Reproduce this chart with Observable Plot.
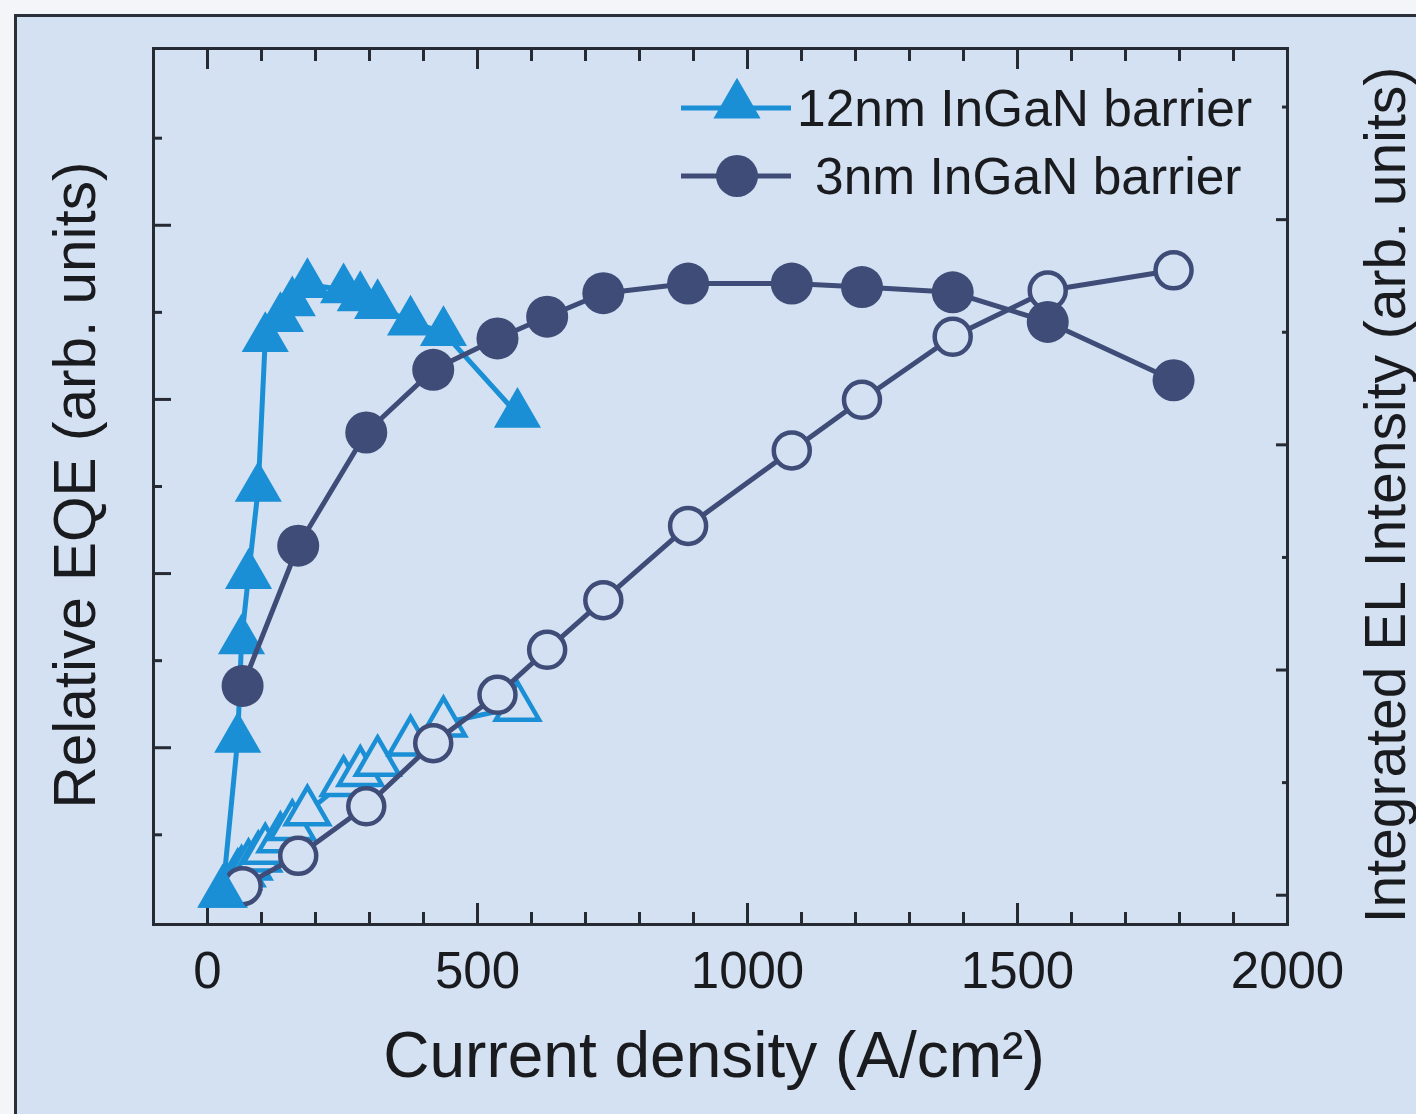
<!DOCTYPE html>
<html><head><meta charset="utf-8">
<script src="https://cdn.jsdelivr.net/npm/d3@7"></script>
<script src="https://cdn.jsdelivr.net/npm/@observablehq/plot@0.6"></script>
<style>
body{margin:0;background:#f3f5f9;}
#wrap{position:relative;width:1416px;height:1114px;overflow:hidden;font-family:"Liberation Sans",Arial,sans-serif;color:#1a1b1f;}
#panel{position:absolute;left:14px;top:14px;width:1420px;height:1120px;background:#d4e1f2;border-left:3px solid #2b2f38;border-top:3px solid #2b2f38;}
#chart{position:absolute;left:0;top:0;}
.t{position:absolute;white-space:nowrap;line-height:1;}
.leg{position:absolute;}
</style></head>
<body><div id="wrap"><div id="panel"></div><div id="chart"></div>
<div class="t" id="xt" style="font-size:64px;left:714px;top:1023px;transform:translateX(-50%);">Current density (A/cm²)</div>
<div class="t" id="yl" style="font-size:58.5px;left:75px;top:485px;transform:translate(-50%,-50%) rotate(-90deg);">Relative EQE (arb. units)</div>
<div class="t" id="yr" style="font-size:57px;left:1385px;top:495px;transform:translate(-50%,-50%) rotate(-90deg);">Integrated EL Intensity (arb. units)</div>
<div id="legend"></div>
</div>
<script>
// ---- data ----
const jThick   = [28, 56, 63, 76, 94, 107, 135, 157, 185, 252, 283, 315, 376, 437, 574];
const eqeThick = [0.32, 2.10, 3.23, 3.98, 4.98, 6.70, 6.93, 7.11, 7.32, 7.26, 7.17, 7.08, 6.89, 6.77, 5.83];
const elThick  = [0.02, 0.17, 0.20, 0.26, 0.33, 0.40, 0.50, 0.61, 0.74, 1.00, 1.09, 1.18, 1.36, 1.53, 1.67];
const jThin    = [65, 168, 294, 418, 537, 629, 733, 890, 1082, 1212, 1380, 1556, 1789];
const eqeThin  = [2.71, 4.32, 5.62, 6.34, 6.70, 6.95, 7.22, 7.33, 7.33, 7.29, 7.23, 6.89, 6.22];
const elThin   = [0.08, 0.35, 0.79, 1.35, 1.78, 2.18, 2.62, 3.28, 3.95, 4.40, 4.96, 5.37, 5.55];
const seriesNames = ["12nm InGaN barrier", "3nm InGaN barrier"];
const xMajor = [0, 500, 1000, 1500, 2000];
const xMinor = [100,200,300,400,600,700,800,900,1100,1200,1300,1400,1600,1700,1800,1900];
const yLeftMajor = [2, 4, 6, 8];
const yLeftMinor = [1, 3, 5, 7, 9];
const yRightMajor = [0, 2, 4, 6];
const yRightMinor = [1, 3, 5, 7];

// right axis (EL) mapped onto left scale units
const yLeftDomain = [-0.03, 10.03];
const yRightDomain = [-0.26, 7.52];
const toLeft = v => yLeftDomain[0] + (v - yRightDomain[0]) * (yLeftDomain[1]-yLeftDomain[0]) / (yRightDomain[1]-yRightDomain[0]);

const thick = jThick.map((j,i)=>({j, eqe: eqeThick[i], el: elThick[i]}));
const thin  = jThin.map((j,i)=>({j, eqe: eqeThin[i], el: elThin[i]}));

const BLUE = "#1a8fd5", NAVY = "#3e4c77", BG = "#d4e1f2", INK = "#262a33";
const noText = () => "";
const LW = 5;

const chart = Plot.plot({
  width: 1416, height: 1114,
  marginLeft: 153, marginRight: 129, marginTop: 48, marginBottom: 190,
  x: {domain: [-100, 2000]},
  y: {domain: yLeftDomain},
  style: {background: "transparent", fontFamily: "Liberation Sans, Arial, sans-serif", color: "#1a1b1f", overflow: "visible"},
  marks: [
    // ticks
    Plot.axisX({anchor: "bottom", ticks: xMajor, tickSize: -21, tickFormat: noText, label: null, stroke: INK, strokeWidth: 3}),
    Plot.axisX({anchor: "bottom", ticks: xMinor, tickSize: -12, tickFormat: noText, label: null, stroke: INK, strokeWidth: 3}),
    Plot.axisX({anchor: "top", ticks: xMajor, tickSize: -20, tickFormat: noText, label: null, stroke: INK, strokeWidth: 3}),
    Plot.axisX({anchor: "top", ticks: xMinor, tickSize: -12, tickFormat: noText, label: null, stroke: INK, strokeWidth: 3}),
    Plot.axisX({anchor: "bottom", ticks: xMajor, tickSize: 0, tickPadding: 27, fontSize: 51, label: null, tickFormat: d => String(d)}),
    Plot.axisY({anchor: "left", ticks: yLeftMajor, tickSize: -18, tickFormat: noText, label: null, stroke: INK, strokeWidth: 3}),
    Plot.axisY({anchor: "left", ticks: yLeftMinor, tickSize: -9, tickFormat: noText, label: null, stroke: INK, strokeWidth: 3}),
    Plot.axisY({anchor: "right", ticks: yRightMajor.map(toLeft), tickSize: -12, tickFormat: noText, label: null, stroke: INK, strokeWidth: 3}),
    Plot.axisY({anchor: "right", ticks: yRightMinor.map(toLeft), tickSize: -6, tickFormat: noText, label: null, stroke: INK, strokeWidth: 3}),
    // 12nm EL (open triangles)
    Plot.line(thick, {x: "j", y: d => toLeft(d.el), stroke: BLUE, strokeWidth: LW}),
    Plot.dot(thick, {x: "j", y: d => toLeft(d.el), symbol: "triangle", r: 16, stroke: BLUE, strokeWidth: 4.5, fill: BG}),
    // 3nm EL (open circles)
    Plot.line(thin, {x: "j", y: d => toLeft(d.el), stroke: NAVY, strokeWidth: LW}),
    Plot.dot(thin, {x: "j", y: d => toLeft(d.el), symbol: "circle", r: 18, stroke: NAVY, strokeWidth: 4.5, fill: BG}),
    // 12nm EQE (filled triangles)
    Plot.line(thick, {x: "j", y: "eqe", stroke: BLUE, strokeWidth: LW}),
    Plot.dot(thick, {x: "j", y: "eqe", symbol: "triangle", r: 17.5, fill: BLUE}),
    // 3nm EQE (filled circles)
    Plot.line(thin, {x: "j", y: "eqe", stroke: NAVY, strokeWidth: LW}),
    Plot.dot(thin, {x: "j", y: "eqe", symbol: "circle", r: 21, fill: NAVY}),
    Plot.frame({stroke: INK, strokeWidth: 3})
  ]
});
document.getElementById("chart").appendChild(chart);

// legend
const legend = document.getElementById("legend");
const legItems = [
  {name: seriesNames[0], color: BLUE, sym: "triangle", cy: 108, textLeft: 797},
  {name: seriesNames[1], color: NAVY, sym: "circle", cy: 176, textLeft: 815}
];
legItems.forEach(it => {
  const svg = d3.create("svg").attr("class","leg").attr("width", 130).attr("height", 60)
    .style("left", "675px").style("top", (it.cy - 30) + "px");
  svg.append("line").attr("x1", 6).attr("x2", 116).attr("y1", 30).attr("y2", 30)
    .attr("stroke", it.color).attr("stroke-width", LW);
  const s = it.sym === "triangle" ? d3.symbol(d3.symbolTriangle, Math.PI*17.5*17.5) : d3.symbol(d3.symbolCircle, Math.PI*21*21);
  svg.append("path").attr("d", s()).attr("transform", `translate(62,${it.sym==="triangle"?27:30})`).attr("fill", it.color);
  legend.appendChild(svg.node());
  const t = document.createElement("div");
  t.className = "t"; t.textContent = it.name;
  t.style.fontSize = "51.5px"; t.style.left = it.textLeft + "px"; t.style.top = (it.cy - 25) + "px";
  legend.appendChild(t);
});
</script>
</body></html>
